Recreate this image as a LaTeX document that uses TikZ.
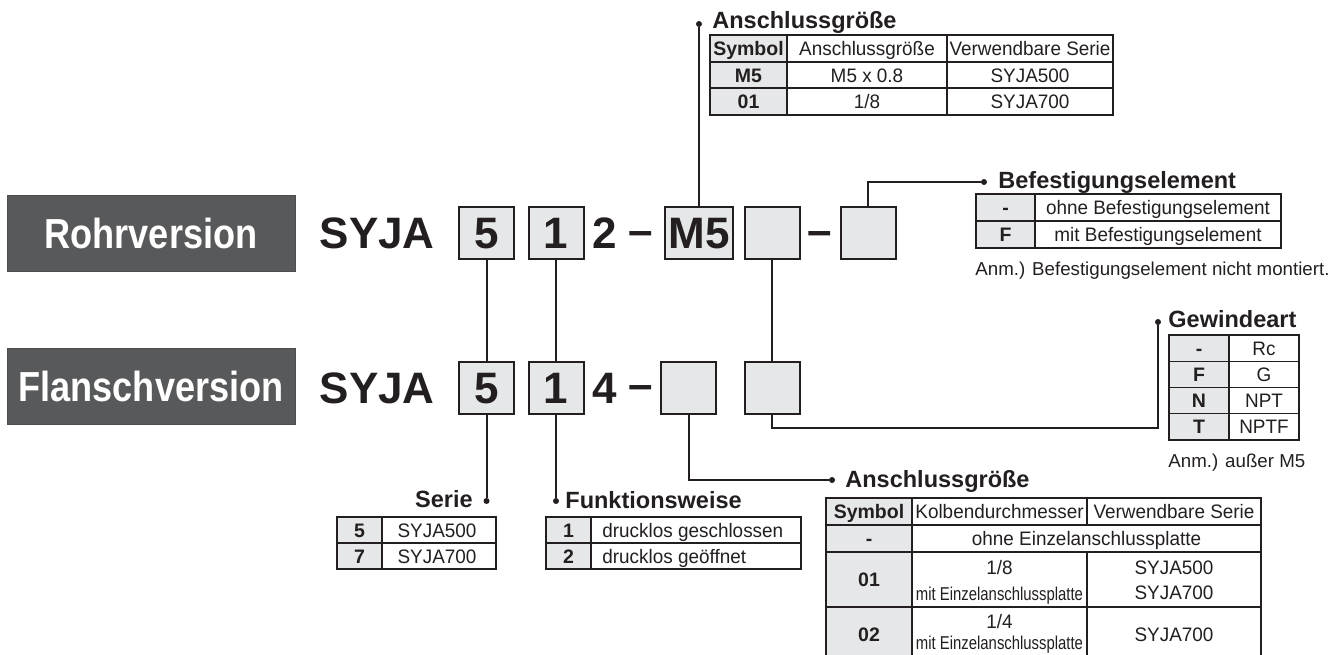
\documentclass[tikz,border=0pt]{standalone}
\usepackage{fontspec}
\setmainfont{Liberation Sans}
\newfontfamily\narrowfont[FakeStretch=0.8]{Liberation Sans}
\newfontfamily\condfont[FakeStretch=0.86]{Liberation Sans}
\newfontfamily\tabfont[FakeStretch=0.97]{Liberation Sans}
\definecolor{ink}{HTML}{231F20}
\definecolor{cellgray}{HTML}{E6E7E8}
\definecolor{labelgray}{HTML}{58595B}

\tikzset{
  lbl/.style={fill=labelgray, draw=ink!80, text=white, font=\fontsize{21}{23}\condfont\bfseries, minimum width=144pt, minimum height=38pt},
  code/.style={font=\fontsize{22}{24}\bfseries, text height=15.75pt, text depth=0pt},
  codebox/.style={code, draw=ink, line width=1pt, fill=cellgray, minimum width=27.5pt, minimum height=26pt},
  head/.style={font=\fontsize{11.75}{13}\bfseries, anchor=base west},
  txt/.style={font=\fontsize{9.75}{11}\tabfont, text height=7pt, text depth=0pt},
  btxt/.style={txt, font=\fontsize{9.75}{11}\bfseries},
  small/.style={font=\fontsize{9.3}{10}\narrowfont, text height=6.7pt, text depth=0pt},
  note/.style={font=\fontsize{9.35}{11}\selectfont, anchor=base west},
  grid/.style={draw=ink, line width=0.55pt},
  frame/.style={draw=ink, line width=0.8pt},
  conn/.style={draw=ink, line width=1pt},
  dot/.style={circle, fill=ink, minimum size=3pt}
}

\begin{document}
\begin{tikzpicture}[x=0.5pt, y=-0.5pt, every node/.style={inner sep=0pt, text=ink}]
\useasboundingbox (0,0) rectangle (1337,654);

\node[lbl](rohr) at (151,233){Rohrversion};
\node[lbl](flansch) at (151,386.5){Flanschversion};

\node[code, anchor=east](rsyja) at (435,233){SYJA};
\node[codebox](r5) at (486.5,233){5};
\node[codebox](r1) at (556,233){1};
\node[code](r2) at (605,233){2};
\node[code, yshift=1.8pt](rdash1) at (641,233){–};
\node[codebox, minimum width=34pt](rm5) at (699,233){M5};
\node[codebox](rb2) at (772,233){};
\node[code, yshift=1.8pt](rdash2) at (820,233){–};
\node[codebox](rb3) at (868,233){};

\node[code, anchor=east](fsyja) at (435,387.5){SYJA};
\node[codebox](f5) at (486.5,387.5){5};
\node[codebox](f1) at (556,387.5){1};
\node[code](f4) at (605,387.5){4};
\node[code, yshift=1.8pt](fdash) at (641,387.5){–};
\node[codebox](fb1) at (688.5,387.5){};
\node[codebox](fb2) at (772,387.5){};

\node[dot](dant) at (699,24){};
\node[dot](dbef) at (984,182){};
\node[dot](dgew) at (1158,322){};
\node[dot](dser) at (486.5,501){};
\node[dot](dfun) at (556,501){};
\node[dot](danb) at (832,480){};
\coordinate (gturn) at (1158,428);

\draw[conn] (r5) -- (f5);
\draw[conn] (f5) -- (dser);
\draw[conn] (r1) -- (f1);
\draw[conn] (f1) -- (dfun);
\draw[conn] (rm5) -- (dant);
\draw[conn] (rb2) -- (fb2);
\draw[conn] (fb2) |- (gturn) -- (dgew);
\draw[conn] (rb3) |- (dbef);
\draw[conn] (fb1) |- (danb);

\node[head](hant) at (712,28){Anschlussgröße};
\node[head](hbef) at (998,188){Befestigungselement};
\node[head](hgew) at (1168,327){Gewindeart};
\node[head, anchor=base east](hser) at (473,507){Serie};
\node[head](hfun) at (565,508){Funktionsweise};
\node[head](hanb) at (845,487){Anschlussgröße};

\fill[cellgray] (710,35) rectangle (787,115);
\draw[grid] (710,62) -- (1113,62) (710,88) -- (1113,88) (787,35) -- (787,115) (947,35) -- (947,115);
\draw[frame] (710,35) rectangle (1113,115);
\node[btxt](ta1) at (748.5,48.5){Symbol};
\node[txt](ta2) at (867,48.5){Anschlussgröße};
\node[txt](ta3) at (1030,48.5){Verwendbare Serie};
\node[btxt](ta4) at (748.5,75){M5};
\node[txt](ta5) at (867,75){M5 x 0.8};
\node[txt](ta6) at (1030,75){SYJA500};
\node[btxt](ta7) at (748.5,101.5){01};
\node[txt](ta8) at (867,101.5){1/8};
\node[txt](ta9) at (1030,101.5){SYJA700};

\fill[cellgray] (976,194) rectangle (1035,248);
\draw[grid] (976,221) -- (1281,221) (1035,194) -- (1035,248);
\draw[frame] (976,194) rectangle (1281,248);
\node[btxt](tb1) at (1005.5,207.5){-};
\node[txt](tb2) at (1158,207.5){ohne Befestigungselement};
\node[btxt](tb3) at (1005.5,234.5){F};
\node[txt](tb4) at (1158,234.5){mit Befestigungselement};
\node[note](nbef) at (975,275){Anm.) Befestigungselement nicht montiert.};

\fill[cellgray] (1169,335) rectangle (1229,440);
\draw[grid] (1169,361.25) -- (1299,361.25) (1169,387.5) -- (1299,387.5) (1169,413.75) -- (1299,413.75) (1229,335) -- (1229,440);
\draw[frame] (1169,335) rectangle (1299,440);
\node[btxt](tc1) at (1199,348.1){-};
\node[txt](tc2) at (1264,348.1){Rc};
\node[btxt](tc3) at (1199,374.4){F};
\node[txt](tc4) at (1264,374.4){G};
\node[btxt](tc5) at (1199,400.6){N};
\node[txt](tc6) at (1264,400.6){NPT};
\node[btxt](tc7) at (1199,426.9){T};
\node[txt](tc8) at (1264,426.9){NPTF};
\node[note](ngew) at (1168,467){Anm.) außer M5};

\fill[cellgray] (337,517) rectangle (382,569);
\draw[grid] (337,543) -- (496,543) (382,517) -- (382,569);
\draw[frame] (337,517) rectangle (496,569);
\node[btxt](td1) at (359.5,530){5};
\node[txt](td2) at (437,530){SYJA500};
\node[btxt](td3) at (359.5,556){7};
\node[txt](td4) at (437,556){SYJA700};

\fill[cellgray] (546,517) rectangle (591,569);
\draw[grid] (546,543) -- (801,543) (591,517) -- (591,569);
\draw[frame] (546,517) rectangle (801,569);
\node[btxt](te1) at (568.5,530){1};
\node[txt, anchor=west](te2) at (602,530){drucklos geschlossen};
\node[btxt](te3) at (568.5,556){2};
\node[txt, anchor=west](te4) at (602,556){drucklos geöffnet};

\fill[cellgray] (826,498) rectangle (912,662);
\draw[grid] (826,525) -- (1261,525) (826,552) -- (1261,552) (826,607) -- (1261,607) (912,498) -- (912,662) (1087,498) -- (1087,525) (1087,552) -- (1087,662);
\draw[frame] (826,498) rectangle (1261,662);
\node[btxt](tf1) at (869,511.5){Symbol};
\node[txt](tf2) at (999.5,511.5){Kolbendurchmesser};
\node[txt](tf3) at (1174,511.5){Verwendbare Serie};
\node[btxt](tf4) at (869,538.5){-};
\node[txt](tf5) at (1086.5,538.5){ohne Einzelanschlussplatte};
\node[btxt](tf6) at (869,579.5){01};
\node[txt](tf7) at (999.5,567){1/8};
\node[small](tf8) at (999.5,594){mit Einzelanschlussplatte};
\node[txt](tf9) at (1174,567){SYJA500};
\node[txt](tf10) at (1174,592){SYJA700};
\node[btxt](tf11) at (869,634.5){02};
\node[txt](tf12) at (999.5,621){1/4};
\node[small](tf13) at (999.5,643){mit Einzelanschlussplatte};
\node[txt](tf14) at (1174,634.5){SYJA700};
\end{tikzpicture}
\end{document}
